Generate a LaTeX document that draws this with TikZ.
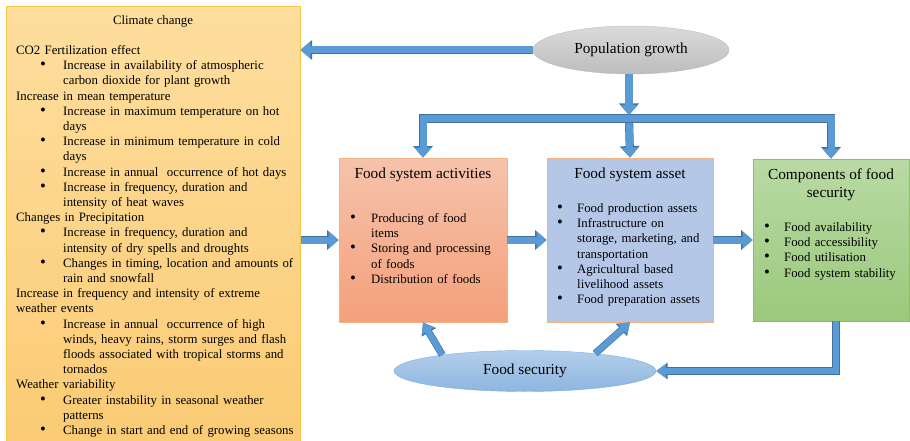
\documentclass[tikz,border=0pt]{standalone}
\usepackage{fontspec}
\setmainfont{Liberation Serif}
\usetikzlibrary{arrows.meta,shapes.geometric}

\definecolor{arrfill}{HTML}{5B9BD5}
\definecolor{arredge}{HTML}{41719C}
\definecolor{climtop}{HTML}{FEDE9E}
\definecolor{climbot}{HTML}{FBCB74}
\definecolor{climedge}{HTML}{F8C64A}
\definecolor{acttop}{HTML}{F6C3AB}
\definecolor{actbot}{HTML}{F4A07B}
\definecolor{actedge}{HTML}{F4B183}
\definecolor{assetfill}{HTML}{B4C7E7}
\definecolor{comptop}{HTML}{B9DAA4}
\definecolor{compbot}{HTML}{9BC97C}
\definecolor{compedge}{HTML}{8CC068}
\definecolor{poptop}{HTML}{DADADA}
\definecolor{popbot}{HTML}{BDBDBD}
\definecolor{fstop}{HTML}{B3CEEB}
\definecolor{fsbot}{HTML}{8DB6E0}
\definecolor{fsedge}{HTML}{7FAEDD}

\newcommand{\bodyfont}{\fontsize{12.8}{15.2}\selectfont\raggedright}
\newcommand{\headfont}{\fontsize{15.3}{18}\selectfont}
\newcommand{\hd}[1]{\noindent\hangindent=0pt #1\par}
\newcommand{\bl}[3]{\noindent\hangindent=#2\hangafter=1\makebox[#2][l]{\hspace{#1}\scalebox{1.3}{\textbullet}}#3\par}

\tikzset{
  blk/.style={line width=7pt, draw=arrfill, -{Triangle[width=17pt,length=10pt]},
    preaction={draw=arredge, line width=8.2pt, -{Triangle[width=19pt,length=11.5pt]}}},
  thin blk/.style={line width=6pt, draw=arrfill, -{Triangle[width=14pt,length=10pt]},
    preaction={draw=arredge, line width=7.2pt, -{Triangle[width=16pt,length=11.5pt]}}},
  climbox/.style={draw=climedge, line width=1pt, top color=climtop, bottom color=climbot,
    minimum width=294pt, minimum height=440pt, inner sep=0pt},
  actbox/.style={draw=actedge, line width=0.8pt, top color=acttop, bottom color=actbot,
    minimum width=168pt, minimum height=164pt, inner sep=0pt},
  assetbox/.style={draw=actedge, line width=0.8pt, fill=assetfill,
    minimum width=166pt, minimum height=164pt, inner sep=0pt},
  compbox/.style={draw=compedge, line width=0.8pt, top color=comptop, bottom color=compbot,
    minimum width=156pt, minimum height=162pt, inner sep=0pt},
  popell/.style={ellipse, draw=popbot, top color=poptop, bottom color=popbot,
    minimum width=196pt, minimum height=48pt, inner sep=0pt, font=\headfont},
  fsell/.style={ellipse, draw=fsedge, top color=fstop, bottom color=fsbot,
    minimum width=262pt, minimum height=41pt, inner sep=0pt, font=\headfont},
  title/.style={inner sep=0pt, anchor=base, font=\headfont, align=center},
  listtxt/.style={inner sep=0pt, anchor=base west, text width=#1, font=\bodyfont},
}

\begin{document}
\begin{tikzpicture}[x=1pt,y=-1pt]
\useasboundingbox (0,0) rectangle (910,441);

% boxes
\node[climbox] (clim) at (153,227) {};
\node[actbox] (act) at (423,240) {};
\node[assetbox] (asset) at (630,240) {};
\node[compbox] (comp) at (831,240) {};
\node[popell] (pop) at (631,50) {Population growth};
\node[fsell] (fs) at (525,371) {Food security};

% climate text
\node[inner sep=0pt, anchor=base, font=\bodyfont] (climTitle) at (153,24.5) {Climate change};
\node[listtxt=290pt] (climList) at (16,54.5) {%
\hd{CO2 Fertilization effect}
\bl{24pt}{47pt}{Increase in availability of atmospheric\newline carbon dioxide for plant growth}
\hd{Increase in mean temperature}
\bl{24pt}{47pt}{Increase in maximum temperature on hot\newline days}
\bl{24pt}{47pt}{Increase in minimum temperature in cold\newline days}
\bl{24pt}{47pt}{Increase in annual\ \ occurrence of hot days}
\bl{24pt}{47pt}{Increase in frequency, duration and\newline intensity of heat waves}
\hd{Changes in Precipitation}
\bl{24pt}{47pt}{Increase in frequency, duration and\newline intensity of dry spells and droughts}
\bl{24pt}{47pt}{Changes in timing, location and amounts of\newline rain and snowfall}
\hd{Increase in frequency and intensity of extreme\newline weather events}
\bl{24pt}{47pt}{Increase in annual\ \ occurrence of high\newline winds, heavy rains, storm surges and flash\newline floods associated with tropical storms and\newline tornados}
\hd{Weather variability}
\bl{24pt}{47pt}{Greater instability in seasonal weather\newline patterns}
\bl{24pt}{47pt}{Change in start and end of growing seasons}};

% box texts
\node[title] (actTitle) at (423,178) {Food system activities};
\node[listtxt=160pt] (actList) at (350,222.5) {%
\bl{0pt}{21pt}{Producing of food\newline items}
\bl{0pt}{21pt}{Storing and processing\newline of foods}
\bl{0pt}{21pt}{Distribution of foods}};

\node[title] (assetTitle) at (630,178) {Food system asset};
\node[listtxt=160pt] (assetList) at (557,212.5) {%
\bl{0pt}{20pt}{Food production assets}
\bl{0pt}{20pt}{Infrastructure on\newline storage, marketing, and\newline transportation}
\bl{0pt}{20pt}{Agricultural based\newline livelihood assets}
\bl{0pt}{20pt}{Food preparation assets}};

\node[title] (compTitle) at (831,197) {Components of food\\security};
\node[listtxt=150pt] (compList) at (764,231.5) {%
\bl{0pt}{20pt}{Food availability}
\bl{0pt}{20pt}{Food accessibility}
\bl{0pt}{20pt}{Food utilisation}
\bl{0pt}{20pt}{Food system stability}};

% connectors
\coordinate (barM) at (629,118.5);
\draw[blk] (pop.west) -- (pop.west -| clim.east);
\draw[blk] (barM) -- (asset.north);
\draw[blk] (barM) -| (act.north);
\draw[blk] (barM) -| (comp.north);
\draw[blk, line width=8pt] (pop.south -| barM) -- ([yshift=3.5pt]barM);

\draw[blk] (clim.east |- act.west) -- (act.west);
\draw[blk] (act.east) -- (asset.west);
\draw[blk] (asset.east) -- (comp.west);

\draw[thin blk] ([xshift=5pt]comp.south) |- (fs.east);
\draw[thin blk] (fs.169) -- (act.south);
\draw[thin blk] (fs.14) -- (asset.south);
\end{tikzpicture}
\end{document}
